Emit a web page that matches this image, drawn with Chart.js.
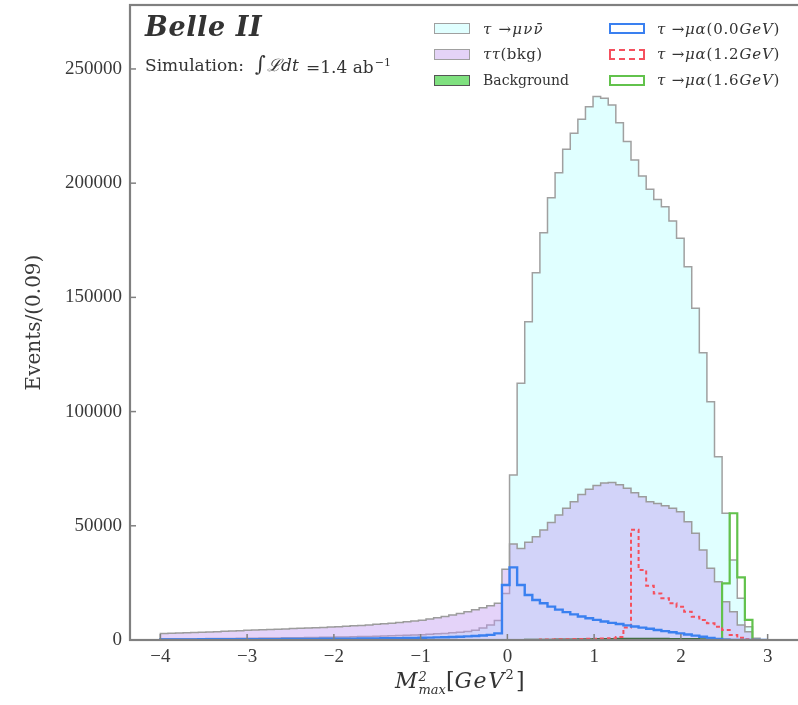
<!DOCTYPE html>
<html><head><meta charset="utf-8">
<script src="https://cdn.jsdelivr.net/npm/chart.js@4.4.1/dist/chart.umd.min.js"></script>
<style>
html,body{margin:0;padding:0;background:#fff;}
#wrap{position:relative;width:798px;height:705px;overflow:hidden;background:#fff;}
canvas{position:absolute;left:0;top:0;}
.t{position:absolute;white-space:nowrap;font-family:'DejaVu Serif',serif;color:#333;line-height:1;}
.sw{position:absolute;width:36px;height:11px;box-sizing:border-box;}
.lg{font-size:14px;}
.lm{font-size:15px;letter-spacing:0.8px;}
</style></head><body>
<div id="wrap">
<canvas id="c" width="798" height="705"></canvas>
<div class="t" style="left:145px;top:13px;font-size:27px;font-weight:bold;font-style:italic;letter-spacing:0.6px;">Belle II</div>
<div class="t" style="left:145px;top:57px;font-size:17px;">Simulation:</div>
<div class="t" style="left:255px;top:54px;font-size:21px;">&#8747;</div>
<div class="t" style="left:267px;top:57px;font-size:17px;font-style:italic;">&#8466;dt</div>
<div class="t" style="left:306px;top:57px;font-size:17px;">=1.4 ab<sup style="font-size:11px;vertical-align:7px;margin-left:1px">&#8722;1</sup></div>

<div class="sw" style="left:434px;top:23px;background:#e0ffff;border:1.5px solid #a0a0a0;"></div>
<div class="t lm" style="left:483px;top:22px;letter-spacing:1.2px;"><i>&#964;</i> &#8594;<i>&#956;&#957;&#957;&#772;</i></div>
<div class="sw" style="left:434px;top:49px;background:#e4d3f7;border:1.5px solid #a0a0a0;"></div>
<div class="t lm" style="left:483px;top:47px;letter-spacing:0.4px;"><i>&#964;&#964;</i>(bkg)</div>
<div class="sw" style="left:434px;top:75px;background:#7fe07f;border:1.5px solid #555;"></div>
<div class="t lg" style="left:483px;top:73px;">Background</div>

<div class="sw" style="left:609px;top:23px;border:2px solid #3a80f0;"></div>
<div class="t lm" style="left:657px;top:22px;"><i>&#964;</i> &#8594;<i>&#956;&#945;</i>(0.0<i>GeV</i>)</div>
<div class="sw" style="left:609px;top:49px;border:2px dashed #f5505e;"></div>
<div class="t lm" style="left:657px;top:47px;"><i>&#964;</i> &#8594;<i>&#956;&#945;</i>(1.2<i>GeV</i>)</div>
<div class="sw" style="left:609px;top:75px;border:2px solid #62c24c;"></div>
<div class="t lm" style="left:657px;top:73px;"><i>&#964;</i> &#8594;<i>&#956;&#945;</i>(1.6<i>GeV</i>)</div>

<div class="t" style="left:395px;top:668px;font-size:22px;"><i>M</i><span style="display:inline-block;vertical-align:-6px;line-height:13px;font-size:13px;margin-left:1px;"><i>2</i><br><i>max</i></span>[<i style="letter-spacing:1.5px">GeV</i><sup style="font-size:13px;vertical-align:9px;">2</sup>&#8202;]</div>
</div>
<script>
// Histogram binning (x axis categories): 80 bins from -4 to 3
const binStart = -4;
const binWidth = 0.0875;
const nBins = 80;

// tau -> mu nu nubar (filled, light cyan)
const tauMuNuNu = [
  500, 520, 540, 560, 580, 600, 620, 650, 680, 710, 740, 770,
  800, 830, 860, 900, 940, 980, 1020, 1070, 1120, 1170, 1230, 1290,
  1350, 1420, 1500, 1580, 1670, 1760, 1860, 1970, 2080, 2200, 2350,
  2500, 2700, 2900, 3150, 3400, 3700, 4300, 5200, 6600, 8500,
  20400, 72200, 112400, 139300, 160800, 178300, 193600, 204600, 214800, 221800,
  228000, 233500, 237900, 237200, 234200, 226500, 218200, 210100, 203100, 197300,
  192900, 189700, 183400, 175900, 163400, 145200, 125800, 104300, 80200, 55500,
  35000, 18300, 5800, 0, 0
];
// tau tau (bkg) (filled, translucent purple)
const tauTauBkg = [
  2900, 3000, 3100, 3200, 3300, 3400, 3500, 3650, 3800, 3950, 4100, 4250,
  4400, 4500, 4600, 4700, 4850, 5000, 5100, 5200, 5350, 5500, 5650, 5800,
  6000, 6200, 6400, 6600, 6850, 7100, 7350, 7650, 7950, 8300, 8700,
  9200, 9700, 10300, 10900, 11600, 12400, 13200, 14100, 15000, 16100,
  31000, 42000, 40100, 42800, 45200, 48200, 51400, 54700, 57700, 60500,
  63700, 66000, 67600, 68700, 69000, 68000, 66400, 64500, 62700, 60500,
  59800, 58800, 57700, 56200, 51800, 46700, 39400, 31400, 25500, 16800,
  12400, 6600, 3600, 800, 0
];
// Background (filled green, tiny)
const otherBkg = [
  0, 0, 0, 0, 0, 0, 0, 0, 0, 0, 0, 0,
  0, 0, 0, 0, 0, 0, 0, 0, 0, 0, 0, 0,
  0, 0, 0, 0, 0, 0, 0, 0, 0, 0, 0,
  0, 0, 0, 0, 0, 0, 0, 0, 0, 0,
  100, 150, 150, 200, 200, 250, 250, 300, 300, 350,
  400, 450, 500, 550, 600, 650, 700, 700, 700, 700,
  650, 650, 600, 600, 550, 500, 450, 400, 300, 200,
  100, 50, 0, 0, 0
];
// tau -> mu alpha (0.0 GeV)
const muAlpha00 = [
  250, 260, 270, 280, 290, 300, 310, 320, 330, 340, 350, 360,
  370, 380, 390, 400, 420, 440, 460, 480, 500, 520, 540, 560,
  580, 610, 640, 670, 700, 740, 780, 820, 870, 920, 980,
  1050, 1130, 1220, 1320, 1440, 1580, 1750, 1950, 2250, 2900,
  24100, 31800, 24100, 19700, 17500, 16100, 14600, 13300, 12200, 11200,
  10300, 9500, 8800, 8100, 7500, 7000, 6400, 5900, 5400, 4900,
  4400, 3900, 3400, 2900, 2400, 1900, 1400, 900, 500, 150,
  0, 0, 0, 0, 0
];
// tau -> mu alpha (1.2 GeV)
const muAlpha12 = [
  0, 0, 0, 0, 0, 0, 0, 0, 0, 0, 0, 0,
  0, 0, 0, 0, 0, 0, 0, 0, 0, 0, 0, 0,
  0, 0, 0, 0, 0, 0, 0, 0, 0, 0, 0,
  0, 0, 0, 0, 0, 0, 0, 0, 0, 0,
  0, 0, 0, 0, 0, 200, 250, 300, 350, 400,
  450, 500, 550, 650, 800, 1300, 5500, 48300, 30600, 23800,
  20400, 18300, 16100, 14600, 12400, 10200, 8800, 7300, 5800, 4400,
  2200, 1000, 300, 0, 0
];
// tau -> mu alpha (1.6 GeV)
const muAlpha16 = [
  0, 0, 0, 0, 0, 0, 0, 0, 0, 0, 0, 0,
  0, 0, 0, 0, 0, 0, 0, 0, 0, 0, 0, 0,
  0, 0, 0, 0, 0, 0, 0, 0, 0, 0, 0,
  0, 0, 0, 0, 0, 0, 0, 0, 0, 0,
  0, 0, 0, 0, 0, 0, 0, 0, 0, 0,
  0, 0, 0, 0, 0, 0, 0, 0, 0, 0,
  0, 0, 0, 0, 0, 0, 0, 0, 0, 24800,
  55500, 27400, 8800, 0, 0
];
const xTicks = [-4, -3, -2, -1, 0, 1, 2, 3];
const yTicks = [0, 50000, 100000, 150000, 200000, 250000];

function histPoints(vals) {
  const pts = [{x: binStart, y: 0}];
  for (let k = 0; k < nBins; k++) pts.push({x: binStart + k * binWidth, y: vals[k]});
  pts.push({x: binStart + nBins * binWidth, y: 0});
  return pts;
}

const axisGray = '#808080';
const framePlugin = {
  id: 'frame',
  afterDatasetsDraw(chart) {
    const {ctx, chartArea: a, scales: {x, y}} = chart;
    ctx.save();
    ctx.strokeStyle = axisGray;
    ctx.lineWidth = 1.5;
    xTicks.forEach(v => {
      const px = x.getPixelForValue(v);
      ctx.beginPath(); ctx.moveTo(px, a.bottom); ctx.lineTo(px, a.bottom - 6); ctx.stroke();
    });
    yTicks.forEach(v => {
      const py = y.getPixelForValue(v);
      ctx.beginPath(); ctx.moveTo(a.left, py); ctx.lineTo(a.left + 6, py); ctx.stroke();
    });
    ctx.lineWidth = 2.2;
    ctx.strokeRect(a.left, a.top, a.right - a.left + 4, a.bottom - a.top);
    ctx.restore();
  }
};

const common = {pointRadius: 0, pointHoverRadius: 0, stepped: 'before', tension: 0};
new Chart(document.getElementById('c'), {
  type: 'line',
  data: {
    datasets: [
      {...common, label: 'tau -> mu alpha (0.0GeV)', data: histPoints(muAlpha00), borderColor: '#3a80f0', borderWidth: 2.4, fill: false},
      {...common, label: 'tau -> mu alpha (1.2GeV)', data: histPoints(muAlpha12), borderColor: '#f5505e', borderWidth: 2, borderDash: [4, 3], fill: false},
      {...common, label: 'tau -> mu alpha (1.6GeV)', data: histPoints(muAlpha16), borderColor: '#62c24c', borderWidth: 2.2, fill: false},
      {...common, label: 'Background', data: histPoints(otherBkg), borderColor: '#3d6b3d', borderWidth: 1.5, backgroundColor: '#7fe07f', fill: 'origin'},
      {...common, label: 'tau tau (bkg)', data: histPoints(tauTauBkg), borderColor: '#9c9c9c', borderWidth: 1.5, backgroundColor: 'rgba(190,150,240,0.42)', fill: 'origin'},
      {...common, label: 'tau -> mu nu nubar', data: histPoints(tauMuNuNu), borderColor: '#a0a0a0', borderWidth: 1.5, backgroundColor: '#e0ffff', fill: 'origin'}
    ]
  },
  options: {
    responsive: false,
    animation: false,
    events: [],
    layout: {padding: {top: 5, right: 0, left: 0, bottom: 0}},
    plugins: {legend: {display: false}, tooltip: {enabled: false}},
    scales: {
      x: {
        type: 'linear', min: -4.35, max: 3.35,
        grid: {display: false, drawTicks: false}, border: {display: false},
        afterFit(s) { s.height = 65; s.paddingLeft = 0; s.paddingRight = 0; },
        afterBuildTicks(s) { s.ticks = xTicks.map(v => ({value: v})); },
        ticks: {padding: 6, color: '#3a3a3a', font: {family: 'Liberation Serif', size: 19},
          callback: v => (v < 0 ? '\u2212' + Math.abs(v) : String(v))}
      },
      y: {
        type: 'linear', min: 0, max: 278000,
        grid: {display: false, drawTicks: false}, border: {display: false},
        afterFit(s) { s.width = 130; s.paddingTop = 0; s.paddingBottom = 0; },
        afterBuildTicks(s) { s.ticks = yTicks.map(v => ({value: v})); },
        ticks: {padding: 8, color: '#3a3a3a', font: {family: 'Liberation Serif', size: 19},
          callback: v => String(v)},
        title: {display: true, text: 'Events/(0.09)', color: '#3a3a3a', padding: {top: 23, bottom: 0},
          font: {family: 'DejaVu Serif', size: 20}}
      }
    }
  },
  plugins: [framePlugin]
});
</script>
</body></html>
